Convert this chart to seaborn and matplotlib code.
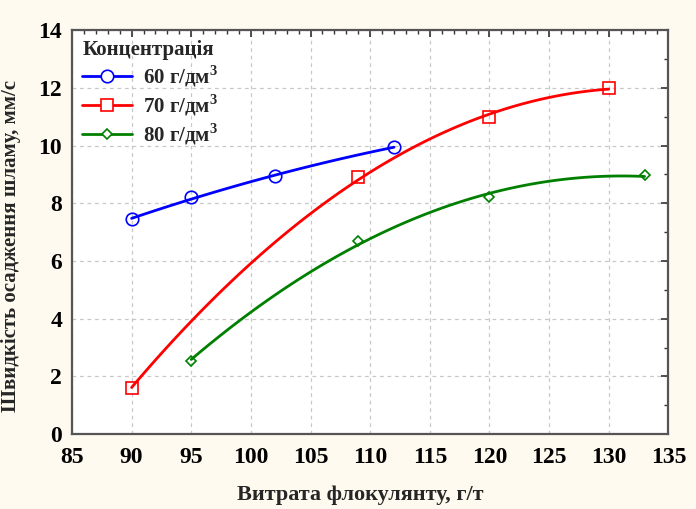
import numpy as np
import pandas as pd
import matplotlib
matplotlib.use("Agg")
import matplotlib.pyplot as plt
from matplotlib.ticker import MultipleLocator
from matplotlib.lines import Line2D
import seaborn as sns

# Measured settling rate vs. flocculant dose for three slurry concentrations
dose_60 = [90, 95, 102, 112]
rate_60 = [7.45, 8.2, 8.93, 9.95]
dose_70 = [90, 109, 120, 130]
rate_70 = [1.6, 8.9, 10.97, 12.0]
dose_80 = [95, 109, 120, 133]
rate_80 = [2.55, 6.7, 8.2, 8.97]

labels = ["60 г/дм$^\\mathbf{3}$", "70 г/дм$^\\mathbf{3}$", "80 г/дм$^\\mathbf{3}$"]
colors = ["#0000FF", "#FF0000", "#008000"]
markers = ["o", "s", "D"]
msizes = [9, 9, 5]

sns.set_theme(style="white")
plt.rcParams["font.family"] = ["Liberation Serif", "DejaVu Serif"]
plt.rcParams["mathtext.fontset"] = "custom"
plt.rcParams["mathtext.bf"] = "Liberation Serif:bold"
plt.rcParams["mathtext.rm"] = "Liberation Serif"

fig = plt.figure(figsize=(6.96, 5.09), dpi=100, facecolor="#FFFAEF")
ax = fig.add_axes([0.1034, 0.147, 0.857, 0.794])
ax.set_facecolor("white")

series = [(dose_60, rate_60), (dose_70, rate_70), (dose_80, rate_80)]
for (xs, ys), c, m, ms in zip(series, colors, markers, msizes):
    df = pd.DataFrame({"x": xs, "y": ys})
    sns.regplot(data=df, x="x", y="y", order=2, ci=None, scatter=False, ax=ax,
                line_kws=dict(color=c, lw=2.0, zorder=3))
    ax.plot(xs, ys, linestyle="none", marker=m, ms=ms, mfc="none", mec=c,
            mew=1.2, zorder=4)

ax.set_xlim(85, 135)
ax.set_ylim(0, 14)
ax.xaxis.set_major_locator(MultipleLocator(5))
ax.xaxis.set_minor_locator(MultipleLocator(1))
ax.yaxis.set_major_locator(MultipleLocator(2))
ax.yaxis.set_minor_locator(MultipleLocator(1))
ax.grid(True, which="major", color="#C8C8C8", linestyle=(0, (3, 3)), lw=0.9)
ax.tick_params(which="both", direction="in", top=True, right=True,
               colors="#333333", labelcolor="black")
ax.tick_params(which="major", length=5, width=1.2)
ax.tick_params(which="minor", length=3, width=1.0)
for lab in ax.get_xticklabels() + ax.get_yticklabels():
    lab.set_fontweight("bold")
    lab.set_fontsize(17)
ax.tick_params(axis="x", pad=9)
ax.tick_params(axis="y", pad=7)
for s in ax.spines.values():
    s.set_color("#555555")
    s.set_linewidth(1.6)

ax.set_xlabel("Витрата флокулянту, г/т", fontsize=16, fontweight="bold")
ax.xaxis.set_label_coords(0.483, -0.125)
ax.set_ylabel("Швидкість осадження шламу, мм/с", fontsize=15, fontweight="bold")
ax.yaxis.set_label_coords(-0.085, 0.465)

handles = [Line2D([0], [0], color=c, lw=2, marker=m, ms=ms, mfc="white", mec=c, mew=1.2)
           for c, m, ms in zip(colors, markers, msizes)]
leg = ax.legend(handles, labels, title="Концентрація", loc="upper left",
                frameon=False, prop=dict(weight="bold", size=15),
                title_fontproperties=dict(weight="bold", size=15),
                handlelength=2.4, borderaxespad=0.2, borderpad=0.3,
                labelspacing=0.16, handletextpad=0.5)
leg._legend_box.align = "left"

fig.savefig("out.png", dpi=100, facecolor=fig.get_facecolor())
